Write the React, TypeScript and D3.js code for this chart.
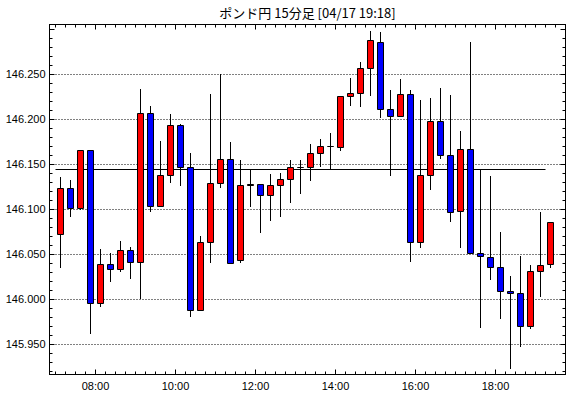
import { useEffect, useRef } from "react";
import * as d3 from "d3";

// 15-minute bars, GBP/JPY
const times = [
  "07:00", "07:15", "07:30", "07:45", "08:00", "08:15", "08:30", "08:45",
  "09:00", "09:15", "09:30", "09:45", "10:00", "10:15", "10:30", "10:45",
  "11:00", "11:15", "11:30", "11:45", "12:00", "12:15", "12:30", "12:45",
  "13:00", "13:15", "13:30", "13:45", "14:00", "14:15", "14:30", "14:45",
  "15:00", "15:15", "15:30", "15:45", "16:00", "16:15", "16:30", "16:45",
  "17:00", "17:15", "17:30", "17:45", "18:00", "18:15", "18:30", "18:45",
  "19:00", "19:15",
];
const opens = [
  146.072, 146.123, 146.101, 146.165, 145.995, 146.039, 146.033, 146.054,
  146.041, 146.206, 146.103, 146.138, 146.193, 146.146, 145.988, 146.063,
  146.129, 146.155, 146.043, 146.126, 146.128, 146.115, 146.127, 146.133,
  146.146, 146.146, 146.162, 146.170, 146.169, 146.225, 146.229, 146.257,
  146.285, 146.211, 146.203, 146.228, 146.063, 146.138, 146.198, 146.160,
  146.098, 146.166, 146.051, 146.047, 146.035, 146.009, 146.007, 145.970,
  146.031, 146.039,
];
const highs = [
  146.136, 146.133, 146.165, 146.165, 146.056, 146.052, 146.065, 146.058,
  146.234, 146.215, 146.176, 146.206, 146.195, 146.163, 146.070, 146.228,
  146.250, 146.175, 146.155, 146.144, 146.128, 146.139, 146.140, 146.155,
  146.155, 146.173, 146.178, 146.185, 146.225, 146.246, 146.264, 146.298,
  146.297, 146.233, 146.245, 146.233, 146.221, 146.224, 146.235, 146.227,
  146.187, 146.286, 146.145, 146.137, 146.075, 146.026, 146.048, 146.038,
  146.097, 146.086,
];
const lows = [
  146.035, 146.091, 146.099, 145.961, 145.992, 146.019, 146.030, 146.023,
  146.000, 146.097, 146.103, 146.129, 146.126, 145.980, 145.988, 146.040,
  146.124, 146.040, 146.040, 146.103, 146.074, 146.087, 146.092, 146.107,
  146.117, 146.131, 146.147, 146.145, 146.165, 146.215, 146.214, 146.226,
  146.202, 146.137, 146.203, 146.042, 146.057, 146.122, 146.156, 146.086,
  146.057, 146.051, 145.968, 146.022, 145.978, 145.923, 145.947, 145.967,
  146.003, 146.035,
];
const closes = [
  146.123, 146.101, 146.165, 145.995, 146.039, 146.033, 146.054, 146.041,
  146.206, 146.103, 146.138, 146.193, 146.146, 145.988, 146.063, 146.129,
  146.155, 146.040, 146.126, 146.128, 146.115, 146.127, 146.133, 146.146,
  146.146, 146.162, 146.170, 146.170, 146.225, 146.229, 146.257, 146.288,
  146.211, 146.203, 146.228, 146.063, 146.138, 146.198, 146.160, 146.097,
  146.166, 146.051, 146.048, 146.035, 146.009, 146.007, 145.970, 146.031,
  146.038, 146.085,
];
const yTicks = [145.95, 146.0, 146.05, 146.1, 146.15, 146.2, 146.25];
const xLabels = ["08:00", "10:00", "12:00", "14:00", "16:00", "18:00"];
const refPrice = 146.1445;
const title = "ポンド円 15分足 [04/17 19:18]";

const W = 570;
const H = 398;

const toDate = (hm: string) => {
  const [h, m] = hm.split(":").map(Number);
  return new Date(Date.UTC(2024, 3, 17, h, m));
};

const App = () => {
  const svgRef = useRef<SVGSVGElement | null>(null);

  useEffect(() => {
    if (!svgRef.current) return;
    const svg = d3.select(svgRef.current);
    svg.selectAll("*").remove();

    const left = 49.5, right = 565.5, top = 24.5, bottom = 374.5;
    const font = "'Liberation Sans', Arial, sans-serif";

    const x = d3
      .scaleUtc()
      .domain([toDate("06:51"), toDate("19:45")])
      .range([left, right]);
    const y = d3.scaleLinear().domain([145.9165, 146.3054]).range([bottom, top]);
    const crisp = (v: number) => Math.floor(v) + 0.5;
    const half = 7.5 * 60 * 1000;
    const cx = (t: string) => crisp(x(new Date(toDate(t).getTime() + half)));

    svg.append("rect").attr("width", W).attr("height", H).attr("fill", "#fff");

    svg
      .append("text")
      .attr("x", (left + right) / 2)
      .attr("y", 18)
      .attr("text-anchor", "middle")
      .attr("font-family", "'Noto Sans CJK JP', sans-serif")
      .attr("font-size", 13)
      .text(title);

    // dotted grid
    svg
      .append("g")
      .selectAll("line")
      .data(yTicks)
      .join("line")
      .attr("x1", left)
      .attr("x2", right)
      .attr("y1", (d) => crisp(y(d)))
      .attr("y2", (d) => crisp(y(d)))
      .attr("stroke", "#000")
      .attr("stroke-dasharray", "1,2");

    // reference price line
    svg
      .append("line")
      .attr("x1", crisp(x(toDate("07:00"))))
      .attr("x2", crisp(x(toDate("19:15"))))
      .attr("y1", crisp(y(refPrice)))
      .attr("y2", crisp(y(refPrice)))
      .attr("stroke", "#000");

    // candles
    const g = svg.append("g");
    times.forEach((t, i) => {
      const o = opens[i], c = closes[i];
      const xc = cx(t);
      g.append("line")
        .attr("x1", xc)
        .attr("x2", xc)
        .attr("y1", Math.round(y(highs[i])))
        .attr("y2", Math.round(y(lows[i])))
        .attr("stroke", "#000");
      const y0 = crisp(y(Math.max(o, c)));
      const y1 = crisp(y(Math.min(o, c)));
      g.append("path")
        .attr("d", `M${xc - 3},${y0}H${xc + 3}V${y1}H${xc - 3}Z`)
        .attr("fill", c >= o ? "#ff0000" : "#0000ff")
        .attr("stroke", "#000");
    });

    // frame
    svg
      .append("rect")
      .attr("x", left)
      .attr("y", top)
      .attr("width", right - left)
      .attr("height", bottom - top)
      .attr("fill", "none")
      .attr("stroke", "#000");

    // x ticks every 15 minutes
    const xTicks = d3.utcMinute.every(15)!.range(toDate("07:00"), toDate("19:45"));
    const isMajor = (d: Date) => d.getUTCMinutes() === 0 && d.getUTCHours() % 2 === 0;
    const tk = svg.append("g").attr("stroke", "#000");
    xTicks.forEach((d) => {
      const xv = crisp(x(d));
      const len = isMajor(d) ? 5 : 3;
      tk.append("line").attr("x1", xv).attr("x2", xv).attr("y1", bottom).attr("y2", bottom - len);
      tk.append("line").attr("x1", xv).attr("x2", xv).attr("y1", top).attr("y2", top + len);
    });

    // y ticks every 0.01
    d3.range(145.92, 146.305, 0.01).forEach((v) => {
      const yv = crisp(y(v));
      const major = Math.abs(Math.round(v * 20) - v * 20) < 1e-6;
      const len = major ? 5 : 3;
      tk.append("line").attr("x1", left).attr("x2", left + len).attr("y1", yv).attr("y2", yv);
      tk.append("line").attr("x1", right).attr("x2", right - len).attr("y1", yv).attr("y2", yv);
    });

    svg
      .append("g")
      .selectAll("text")
      .data(yTicks)
      .join("text")
      .attr("x", left - 4)
      .attr("y", (d) => y(d))
      .attr("dy", "0.36em")
      .attr("text-anchor", "end")
      .attr("font-family", font)
      .attr("font-size", 11)
      .text((d) => d.toFixed(3));

    svg
      .append("g")
      .selectAll("text")
      .data(xLabels)
      .join("text")
      .attr("x", (d) => x(toDate(d)))
      .attr("y", 390)
      .attr("text-anchor", "middle")
      .attr("font-family", font)
      .attr("font-size", 11)
      .text((d) => d);
  }, []);

  return (
    <svg
      ref={svgRef}
      width={W}
      height={H}
      style={{ position: "absolute", left: 0, top: 0 }}
    />
  );
};

export default App;
